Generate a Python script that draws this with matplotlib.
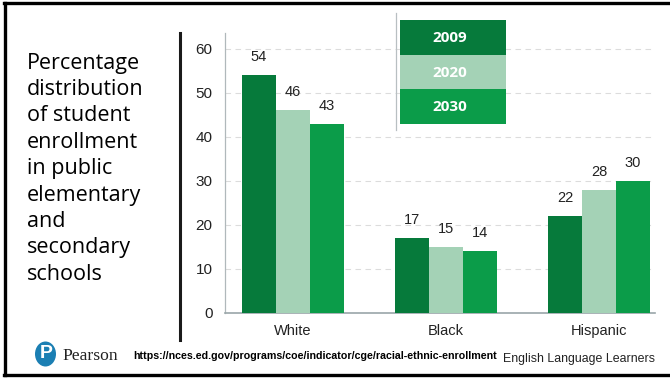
import matplotlib.pyplot as plt
import numpy as np
from matplotlib.patches import Rectangle, Ellipse
from matplotlib.lines import Line2D

groups = ['White', 'Black', 'Hispanic']
years = ['2009', '2020', '2030']
share_2009 = [54, 17, 22]
share_2020 = [46, 15, 28]
share_2030 = [43, 14, 30]
yticks = [0, 10, 20, 30, 40, 50, 60]
side_lines = ['Percentage', 'distribution', 'of student', 'enrollment', 'in public',
              'elementary', 'and', 'secondary', 'schools']
source_url = 'https://nces.ed.gov/programs/coe/indicator/cge/racial-ethnic-enrollment'

colors = ['#067a3b', '#a4d2b6', '#0b9c49']

W, H = 670, 378
fig = plt.figure(figsize=(W / 100, H / 100), dpi=100)


def fx(px):
    return px / W


def fy(py):
    return 1 - py / H


def fig_line(x0, y0, x1, y1, **kw):
    fig.add_artist(Line2D([fx(x0), fx(x1)], [fy(y0), fy(y1)], transform=fig.transFigure, **kw))


# slide frame (open on the right)
fig_line(4, 3, 670, 3, color='black', linewidth=2.4)
fig_line(5, 3, 5, 375, color='black', linewidth=2.4)
fig_line(4, 375, 670, 375, color='black', linewidth=2.4)

# chart area
ax = fig.add_axes([fx(225), fy(313), fx(430), (313 - 33) / H])
x = np.arange(len(groups))
bw = 0.222
for i, vals in enumerate([share_2009, share_2020, share_2030]):
    bars = ax.bar(x + (i - 1) * bw, vals, bw, color=colors[i], zorder=3)
    for b, v in zip(bars, vals):
        ax.annotate(str(v), (b.get_x() + b.get_width() / 2, v), xytext=(0, 8),
                    textcoords='offset points', ha='center', va='bottom',
                    fontsize=10.5, family='Liberation Sans', color='#222222')

ax.set_xlim(-0.444, 2.366)
ax.set_ylim(0, 63.6)
ax.set_yticks(yticks)
ax.set_yticklabels([str(t) for t in yticks], fontsize=11, family='Liberation Sans', color='#222222')
ax.set_xticks(x)
ax.set_xticklabels(groups, fontsize=10.5, family='Liberation Sans', color='#222222')
ax.tick_params(length=0)
ax.tick_params(axis='y', pad=9)
ax.tick_params(axis='x', pad=8)
ax.grid(axis='y', linestyle=(0, (5, 4)), color='#dcdcdc', linewidth=0.8, zorder=0)
for s in ['top', 'right']:
    ax.spines[s].set_visible(False)
ax.spines['left'].set_color('#b0b8bb')
ax.spines['left'].set_linewidth(0.9)
ax.spines['bottom'].set_color('#9aa6a9')
ax.spines['bottom'].set_linewidth(1.2)
ax.patch.set_alpha(0)

# year key
fig_line(396, 13, 396, 130, color='#b8bfc2', linewidth=0.9)
row_top = [20, 54.5, 89]
row_h = 34.5
for yr, c, top in zip(years, colors, row_top):
    fig.add_artist(Rectangle((fx(400), fy(top + row_h)), fx(106), row_h / H,
                             transform=fig.transFigure, facecolor=c, edgecolor='none'))
    fig.text(fx(450), fy(top + row_h / 2 + 1), yr, ha='center', va='center', color='white',
             fontsize=11, fontweight='bold', family='Open Sans')

# divider and side caption
fig_line(180, 33, 180, 340, color='#1a1a1a', linewidth=2.2)
for k, line in enumerate(side_lines):
    fig.text(fx(27), fy(63 + k * 26.4), line, ha='left', va='center',
             fontsize=15.5, family='Open Sans', color='black')

# footer
fig.add_artist(Ellipse((fx(45.5), fy(354)), fx(21), 25 / H, transform=fig.transFigure,
                       facecolor='#1b7fb3', edgecolor='none'))
fig.text(fx(46), fy(354), 'P', ha='center', va='center', color='white',
         fontsize=14, fontweight='bold', family='Liberation Sans')
fig.text(fx(62), fy(356), 'Pearson', ha='left', va='center', fontsize=12.6,
         family='Liberation Serif', color='#222222')
fig.text(fx(133), fy(356), source_url, ha='left', va='center', fontsize=7.7,
         fontweight='bold', family='Liberation Sans', color='black')
fig.text(fx(503), fy(359), 'English Language Learners', ha='left', va='center',
         fontsize=8.9, family='Liberation Sans', color='#222222')

fig.savefig('out.png', dpi=100)
